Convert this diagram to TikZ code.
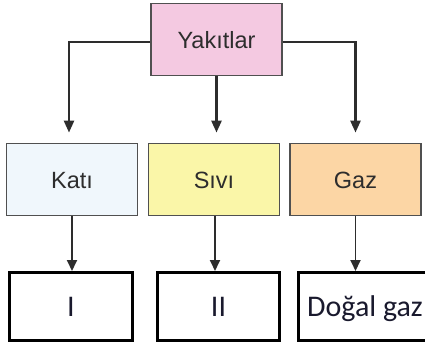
\documentclass[tikz,border=0pt]{standalone}
\usepackage{fontspec}
\setmainfont{Liberation Sans}
\newfontfamily\calib{Carlito}
\usetikzlibrary{arrows.meta}
\definecolor{pinkf}{RGB}{244,201,225}
\definecolor{bluef}{RGB}{240,247,252}
\definecolor{yellf}{RGB}{250,246,168}
\definecolor{peachf}{RGB}{252,214,165}
\definecolor{bord}{RGB}{80,80,80}
\definecolor{arrc}{RGB}{45,45,45}
\definecolor{txtc}{RGB}{45,45,45}
\definecolor{navy}{RGB}{25,25,45}
\tikzset{
  topbox/.style={draw=bord, line width=1.8pt, minimum width=131pt, minimum height=72pt, inner sep=0pt,
    font=\fontsize{23.5}{28}\selectfont, text=txtc, text height=17pt, text depth=0pt},
  lowbox/.style={draw=black, line width=3pt, minimum height=68pt, inner sep=0pt,
    font=\calib\fontsize{30}{36}\selectfont, text=navy, text height=19pt, text depth=0pt},
  toparr/.style={draw=arrc, line width=2.5pt, -{Triangle[length=12pt,width=10pt]}},
  lowarr/.style={draw=arrc, line width=1.8pt, -{Triangle[length=11pt,width=10pt]}}
}
\begin{document}
\begin{tikzpicture}[x=1pt,y=-1pt]
\useasboundingbox (0,0) rectangle (425,351);
\node[topbox, fill=pinkf] (Y) at (216.5,39.5) {Yakıtlar};
\node[topbox, fill=bluef] (K) at (72,179.5) {Katı};
\node[topbox, fill=yellf] (S) at (214,179.5) {Sıvı};
\node[topbox, fill=peachf] (G) at (355.5,179.5) {Gaz};
\node[lowbox, minimum width=123pt] (I) at (71,306.5) {I};
\node[lowbox, minimum width=122pt] (II) at (218.5,306.5) {II};
\node[lowbox, minimum width=133pt] (D) at (365,306.5) {Doğal gaz};
\coordinate (kt) at ([xshift=-3pt,yshift=10pt]K.north);
\coordinate (st) at ([xshift=2pt,yshift=10pt]S.north);
\coordinate (gt) at ([yshift=10pt]G.north);
\draw[toparr] ([yshift=-2.5pt]Y.west) -| (kt);
\draw[toparr] (Y.south) -- (Y.south |- st);
\draw[toparr] ([yshift=-2.5pt]Y.east) -| (gt);
\draw[lowarr] (K.south) -- (K.south |- I.north);
\draw[lowarr] ([xshift=1pt]S.south) -- ([xshift=1pt]S.south |- II.north);
\draw[lowarr] (G.south) -- (G.south |- D.north);
\end{tikzpicture}
\end{document}
